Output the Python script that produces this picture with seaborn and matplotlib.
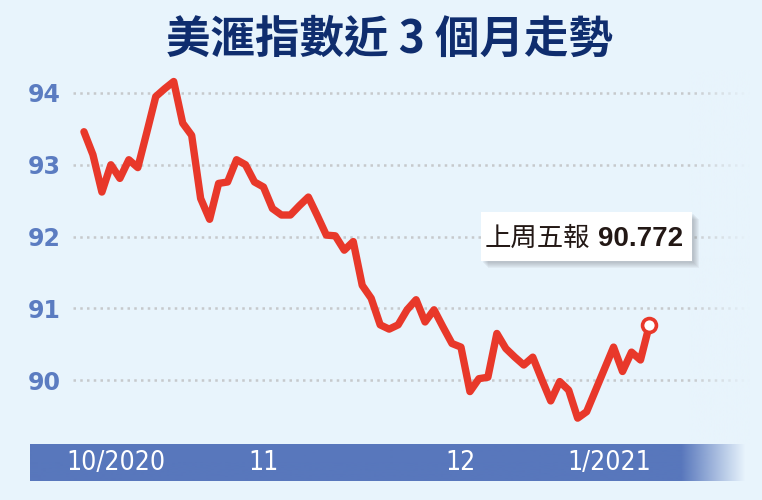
import numpy as np
import pandas as pd
import matplotlib
matplotlib.use("Agg")
import matplotlib.pyplot as plt
import matplotlib.transforms as mtransforms
from matplotlib.patches import Rectangle
from matplotlib.colors import to_rgb
import seaborn as sns

# Datos: cierre diario del índice del dólar
fechas = pd.bdate_range("2020-10-19", "2021-01-15")
fechas = fechas[fechas != pd.Timestamp("2021-01-01")]
valores = [93.46, 93.14, 92.62, 93.00, 92.81, 93.07, 92.96, 93.45, 93.95, 94.06,
           94.16, 93.58, 93.41, 92.53, 92.24, 92.74, 92.76, 93.07, 93.00, 92.76,
           92.69, 92.39, 92.30, 92.30, 92.43, 92.55, 92.29, 92.02, 92.01, 91.81,
           91.93, 91.32, 91.14, 90.77, 90.71, 90.77, 90.98, 91.12, 90.81, 90.98,
           90.74, 90.51, 90.46, 89.84, 90.02, 90.04, 90.65, 90.44, 90.32, 90.21,
           90.32, 90.01, 89.71, 89.98, 89.86, 89.47, 89.56, 89.86, 90.16, 90.46,
           90.12, 90.39, 90.28, 90.772]
y_ticks = [90, 91, 92, 93, 94]
mes_labels = ["10/2020", "11", "12", "1/2021"]
titulo = "美滙指數近 3 個月走勢"
nota_texto = "上周五報"
nota_valor = "90.772"

df = pd.DataFrame({"fecha": fechas, "valor": valores})
df["idx"] = np.arange(len(df))
df["mes"] = df["fecha"].dt.to_period("M")

# colores
fondo = "#E8F4FC"
azul = "#5877BC"
rojo = "#E8382A"

sns.set_style("white")
plt.rcParams["font.family"] = ["Liberation Sans", "DejaVu Sans"]

fig = plt.figure(figsize=(7.62, 5.0), dpi=100, facecolor=fondo)
ax = fig.add_axes([73 / 762, 56 / 500, 677 / 762, 374 / 500])
ax.set_facecolor(fondo)

# rejilla punteada
for v in y_ticks:
    ax.axhline(v, color="#C6C9CC", lw=1.8, ls=(0, (1, 1.7)), zorder=0.5)

# desvanecer la rejilla a la derecha
grad = np.zeros((1, 100, 4))
grad[..., :3] = to_rgb(fondo)
grad[..., 3] = np.linspace(0, 1, 100)
ax.imshow(grad, extent=[0.91, 1.0, 0, 1], transform=ax.transAxes,
          aspect="auto", zorder=1)

sns.lineplot(data=df, x="idx", y="valor", color=rojo, lw=5.3, ax=ax,
             zorder=3, solid_joinstyle="round", solid_capstyle="round")
ax.plot(df["idx"].iloc[-1], df["valor"].iloc[-1], "o", ms=10, mfc="white",
        mec=rojo, mew=2.6, zorder=4)

ax.set_xlim(-1.22, 74.2)
ax.set_ylim(89.11, 94.32)
ax.set_xlabel("")
ax.set_ylabel("")
sns.despine(ax=ax, left=True, bottom=True)

ax.set_yticks(y_ticks)
ax.set_yticklabels([str(v) for v in y_ticks], color="#5B7CC1",
                   fontsize=17, fontweight="bold", family="DejaVu Sans")
ax.tick_params(axis="y", length=0, pad=9)

# marcas de los cambios de mes
primeros = df.groupby("mes")["idx"].min().values[1:]
ax.set_xticks(primeros - 0.75)
ax.set_xticklabels([])
ax.tick_params(axis="x", direction="in", length=8.6, width=2.3, color=azul)

# banda azul del eje x con desvanecido
band = fig.add_axes([30 / 762, 19 / 500, 715 / 762, 37 / 500])
bgrad = np.zeros((1, 715, 4))
bgrad[..., :3] = to_rgb(azul)
alpha = np.ones(715)
alpha[650:] = np.linspace(1, 0, 65)
bgrad[..., 3] = alpha
band.imshow(bgrad, extent=[0, 1, 0, 1], aspect="auto")
band.set_xlim(0, 1)
band.set_ylim(0, 1)
band.axis("off")

trans = mtransforms.blended_transform_factory(ax.transData, fig.transFigure)
centros = df.groupby("mes")["idx"].mean().values
centros[0] = centros[0] - 0.9
for c, lab in zip(centros, mes_labels):
    fig.text(c, 1 - 463 / 500, lab, transform=trans, ha="center", va="center",
             color="white", fontsize=19, fontstretch="condensed",
             family=["DejaVu Sans"])

# título
fig.text(390 / 762, 1 - 40 / 500, titulo, ha="center", va="center",
         color="#0F2D6E", fontsize=32, fontweight="black",
         family=["Noto Sans CJK TC", "DejaVu Sans"])

# cuadro del último valor con sombra
bx, by, bw, bh = 481 / 762, 239 / 500, 211 / 762, 49 / 500
for k in range(6):
    off = (2 + k) / 762
    fig.add_artist(Rectangle((bx + off, by - (2 + k) / 500), bw, bh,
                             transform=fig.transFigure, color="#6E7378",
                             alpha=0.07, lw=0))
fig.add_artist(Rectangle((bx, by), bw, bh, transform=fig.transFigure,
                         color="white", lw=0))
fig.text(485 / 762, 1 - 238 / 500, nota_texto, ha="left", va="center",
         color="#231815", fontsize=19, family=["Noto Sans CJK TC", "DejaVu Sans"])
fig.text(598 / 762, 1 - 239 / 500, nota_valor, ha="left", va="center",
         color="#231815", fontsize=20, fontweight="bold")

plt.savefig("out.png", dpi=100, facecolor=fondo)
plt.close()
